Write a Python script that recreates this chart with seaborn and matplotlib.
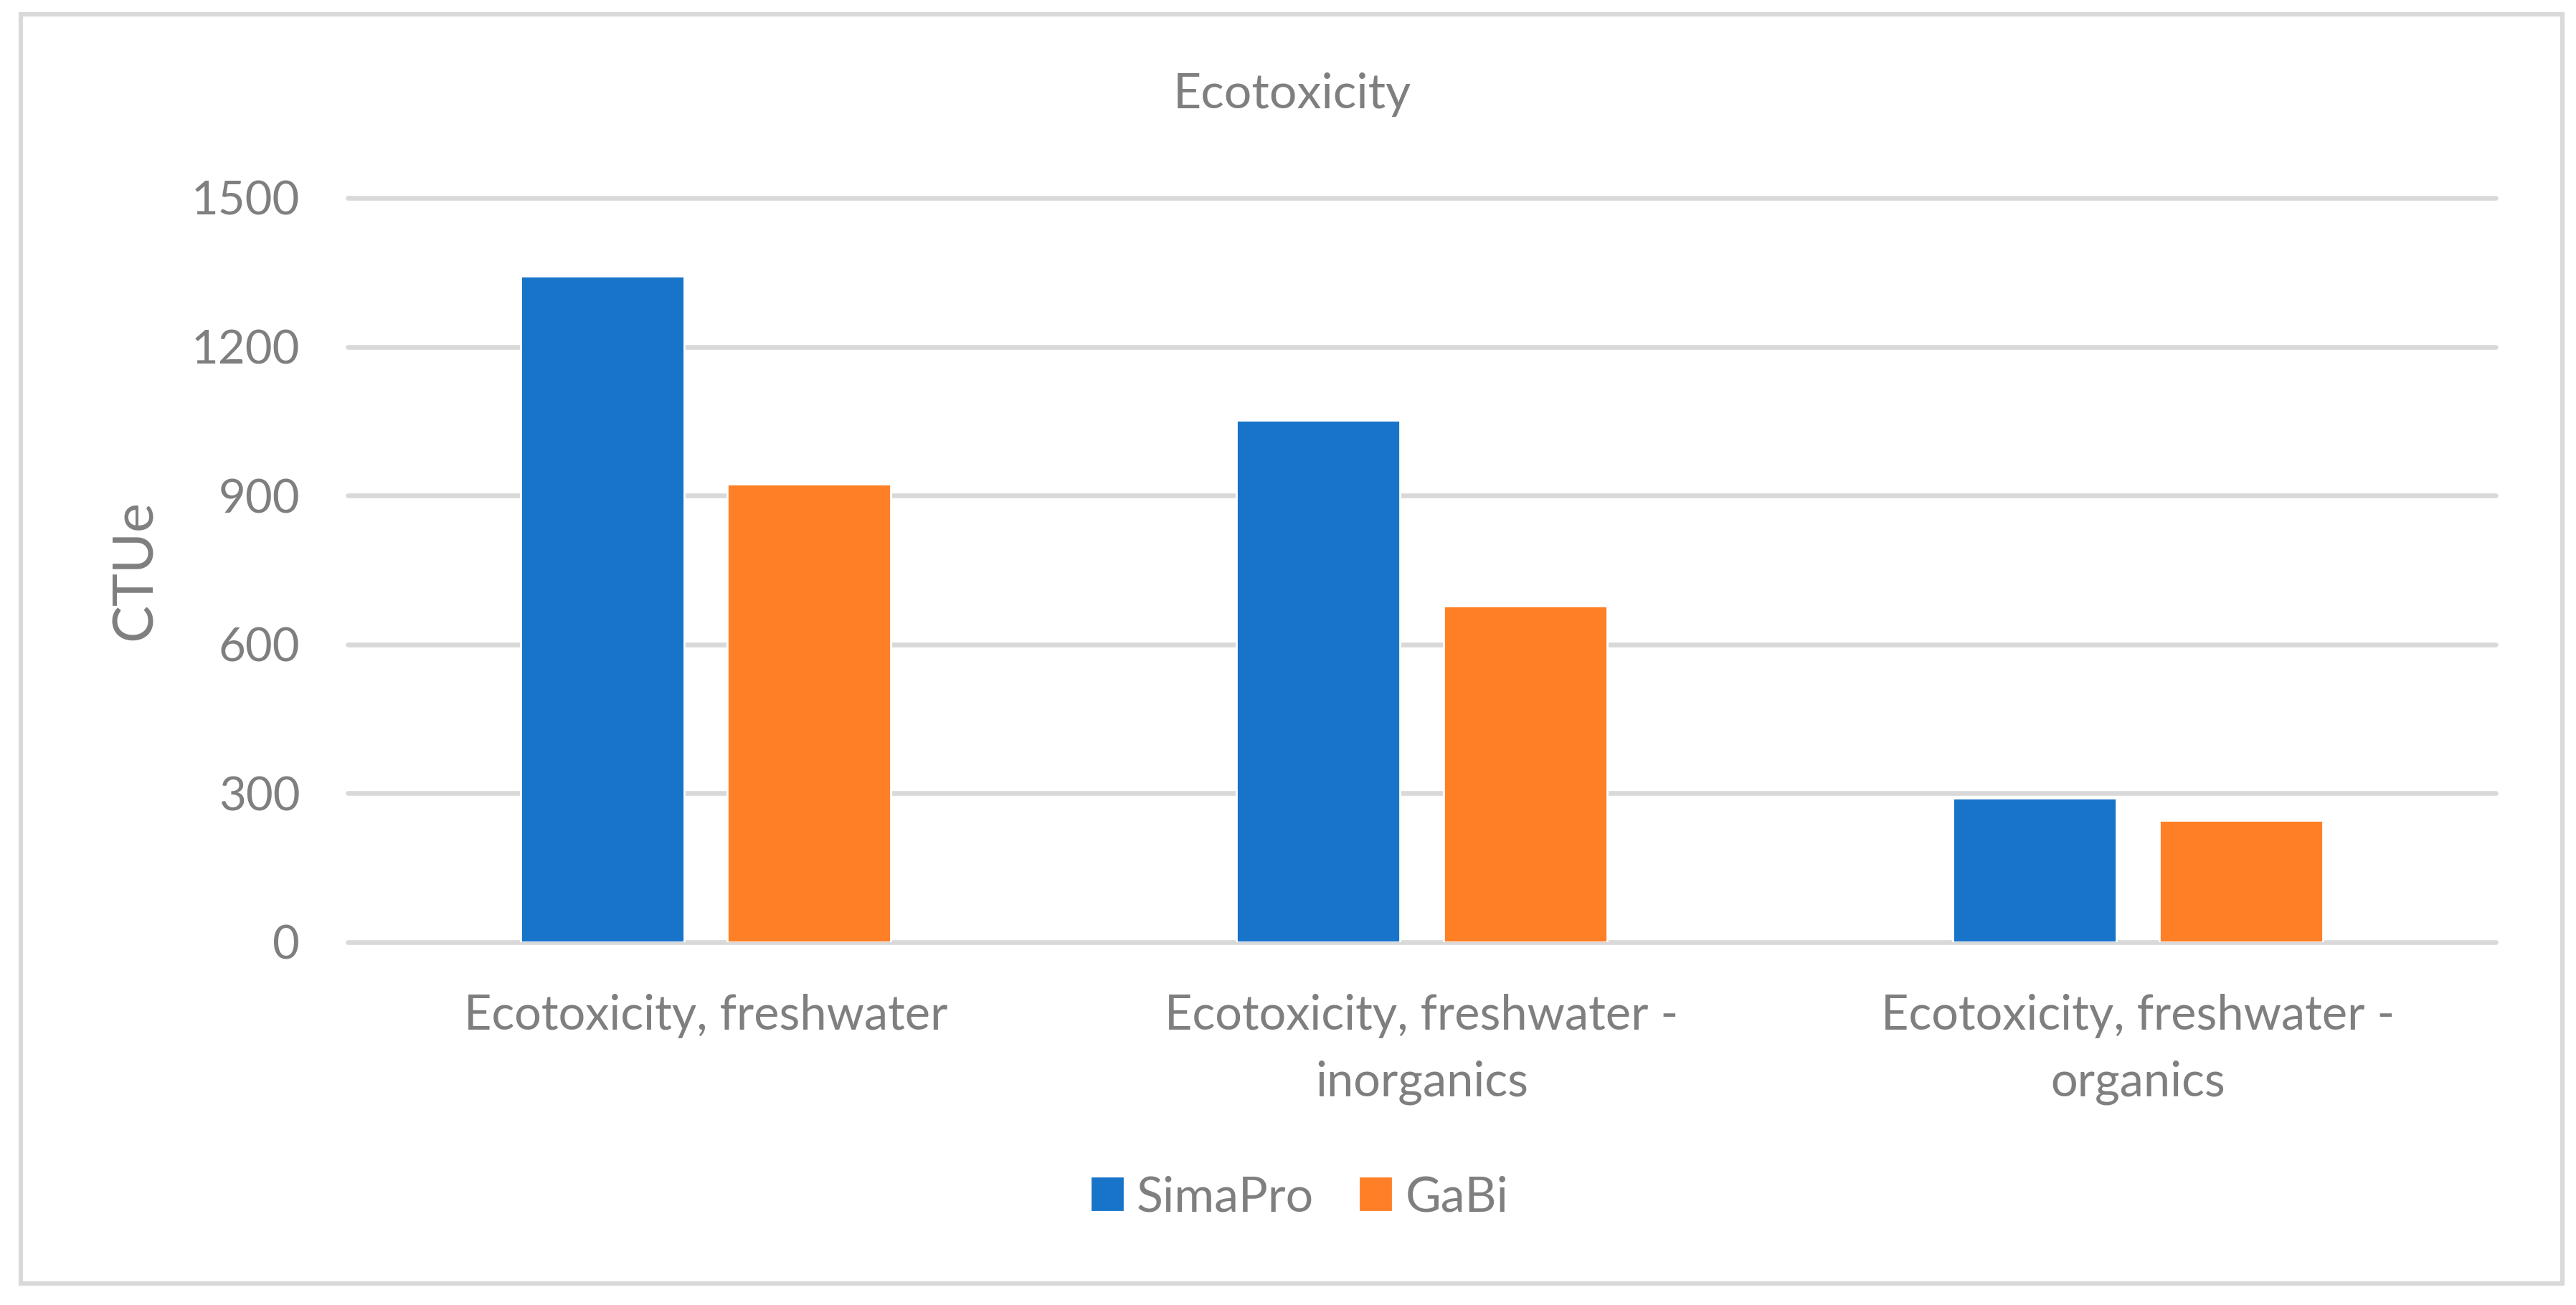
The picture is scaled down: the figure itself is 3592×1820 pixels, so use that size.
import pandas as pd
import matplotlib
matplotlib.use("Agg")
import matplotlib.pyplot as plt
import matplotlib.patches as mpatches
import seaborn as sns

# dados
categorias = ["Ecotoxicity, freshwater",
              "Ecotoxicity, freshwater -\ninorganics",
              "Ecotoxicity, freshwater -\norganics"]
simapro = [1343, 1052, 291]
gabi = [924, 678, 246]
softwares = ["SimaPro", "GaBi"]
cores = ["#1874C9", "#FF7F27"]
yticks = [0, 300, 600, 900, 1200, 1500]

df = pd.DataFrame({
    "categoria": categorias * 2,
    "valor": simapro + gabi,
    "software": ["SimaPro"] * 3 + ["GaBi"] * 3,
})

sns.set_theme(style="white")
plt.rcParams["font.family"] = ["Lato", "DejaVu Sans"]
CINZA = "#7F7F7F"
GRADE = "#D9D9D9"

W, H, DPI = 3592, 1820, 200
fig = plt.figure(figsize=(W / DPI, H / DPI), dpi=DPI)
ax = fig.add_axes([485 / W, 1 - 1314 / H, (3480 - 485) / W, (1314 - 276) / H])

sns.barplot(data=df, x="categoria", y="valor", hue="software",
            order=categorias, hue_order=softwares, palette=cores,
            width=0.578, gap=0.21, saturation=1, ax=ax, legend=False,
            zorder=3)

ax.set_xlim(-0.5, 2.5)
ax.set_ylim(0, 1500)
ax.set_yticks(yticks)
ax.set_axisbelow(True)
ax.yaxis.grid(True, color=GRADE, linewidth=2.4)
for linha in ax.get_ygridlines():
    linha.set_clip_on(False)
ax.xaxis.grid(False)
for s in ax.spines.values():
    s.set_visible(False)
ax.tick_params(axis="y", length=0, pad=24, labelsize=23.5, labelcolor=CINZA)
ax.tick_params(axis="x", length=0, pad=26, labelsize=24, labelcolor=CINZA)
for t in ax.get_xticklabels():
    t.set_linespacing(1.6)
ax.set_xlabel("")
ax.set_ylabel("")

# títulos
fig.text(1802 / W, 1 - 132 / H, "Ecotoxicity", ha="center", va="center",
         fontsize=24.5, color=CINZA)
fig.text(189 / W, 1 - 795 / H, "CTUe", ha="center", va="center",
         rotation=90, fontsize=28, color=CINZA)

# legenda
handles = [mpatches.Patch(color=c, label=l) for c, l in zip(cores, softwares)]
leg = fig.legend(handles=handles, loc="center", bbox_to_anchor=(1813 / W, 1 - 1670 / H),
                 ncol=2, frameon=False, fontsize=24.5, handlelength=0.62,
                 handleheight=0.62, handletextpad=0.3, columnspacing=0.95)
for t in leg.get_texts():
    t.set_color(CINZA)

# moldura do gráfico
fig.patches.append(mpatches.Rectangle((29 / W, 1 - 1790 / H), (3573 - 29) / W, (1790 - 20) / H,
                                      transform=fig.transFigure, fill=False,
                                      edgecolor=GRADE, linewidth=2.2))

fig.savefig("out.png", dpi=DPI, facecolor="white")
